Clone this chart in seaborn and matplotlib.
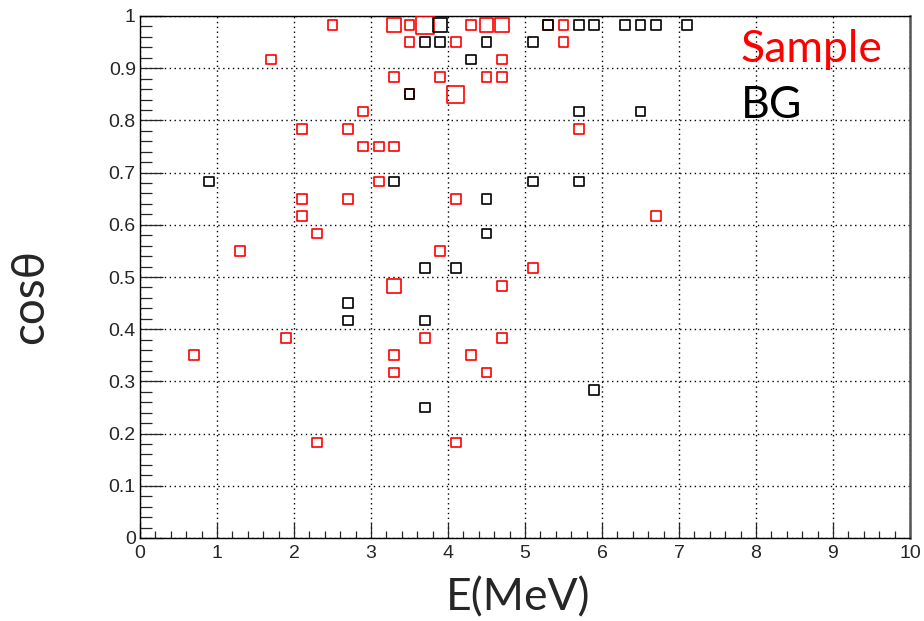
import numpy as np
import pandas as pd
import matplotlib
matplotlib.use("Agg")
import matplotlib.pyplot as plt
import seaborn as sns
from matplotlib.ticker import MultipleLocator

# ---- data (bin centres, counts) ----
sample_E = [2.5, 3.3, 3.5, 3.7, 4.3, 4.5, 4.7, 5.3, 5.5,
            3.5, 4.1, 5.5,
            1.7, 4.7,
            3.3, 3.9, 4.5, 4.7,
            3.5, 4.1,
            2.9,
            2.1, 2.7, 5.7,
            2.9, 3.1, 3.3,
            3.1,
            2.1, 2.7, 4.1,
            2.1, 6.7,
            2.3,
            1.3, 3.9,
            5.1,
            3.3, 4.7,
            1.9, 3.7, 4.7,
            0.7, 3.3, 4.3,
            3.3, 4.5,
            2.3, 4.1]
sample_cos = [0.983] * 9 + [0.95] * 3 + [0.917] * 2 + [0.883] * 4 + [0.85] * 2 + \
             [0.817] + [0.783] * 3 + [0.75] * 3 + [0.683] + [0.65] * 3 + [0.617] * 2 + \
             [0.583] + [0.55] * 2 + [0.517] + [0.483] * 2 + [0.383] * 3 + [0.35] * 3 + \
             [0.317] * 2 + [0.183] * 2
sample_cnt = [1, 2, 1, 3, 1, 2, 2, 1, 1,
              1, 1, 1,
              1, 1,
              1, 1, 1, 1,
              1, 3,
              1,
              1, 1, 1,
              1, 1, 1,
              1,
              1, 1, 1,
              1, 1,
              1,
              1, 1,
              1,
              2, 1,
              1, 1, 1,
              1, 1, 1,
              1, 1,
              1, 1]

bg_E = [3.9, 5.3, 5.7, 5.9, 6.3, 6.5, 6.7, 7.1,
        3.7, 3.9, 4.5, 5.1,
        4.3,
        3.5,
        5.7, 6.5,
        0.9, 3.3, 5.1, 5.7,
        4.5,
        4.5,
        3.7, 4.1,
        2.7,
        2.7, 3.7,
        5.9,
        3.7]
bg_cos = [0.983] * 8 + [0.95] * 4 + [0.917] + [0.85] + [0.817] * 2 + [0.683] * 4 + \
         [0.65] + [0.583] + [0.517] * 2 + [0.45] + [0.417] * 2 + [0.283] + [0.25]
bg_cnt = [2] + [1] * 28

x_ticks = list(range(0, 11))
y_ticks = [0, 0.1, 0.2, 0.3, 0.4, 0.5, 0.6, 0.7, 0.8, 0.9, 1]
y_ticklabels = ["0", "0.1", "0.2", "0.3", "0.4", "0.5", "0.6", "0.7", "0.8", "0.9", "1"]

sample_df = pd.DataFrame({"E": sample_E, "cos": sample_cos, "count": sample_cnt})
bg_df = pd.DataFrame({"E": bg_E, "cos": bg_cos, "count": bg_cnt})

sns.set_style("white")
plt.rcParams["font.family"] = ["Liberation Sans", "DejaVu Sans"]

W, H = 924, 621
fig = plt.figure(figsize=(W / 100, H / 100), dpi=100)
ax = fig.add_axes([140 / W, 1 - 538 / H, 770 / W, 522 / H])

size_map = {1: 48, 2: 100, 3: 160}
for df, col in [(sample_df, "#ff0000"), (bg_df, "#000000")]:
    sns.scatterplot(data=df, x="E", y="cos", size="count", sizes=size_map,
                    marker="s", legend=False, ax=ax, linewidth=1.2, zorder=3)
    coll = ax.collections[-1]
    coll.set_facecolor("none")
    coll.set_edgecolor(col)
    coll.set_linewidth(1.2)

ax.set_xlim(0, 10)
ax.set_ylim(0, 1)
ax.set_xticks(x_ticks)
ax.set_xticklabels([str(v) for v in x_ticks])
ax.set_yticks(y_ticks)
ax.set_yticklabels(y_ticklabels)
ax.xaxis.set_minor_locator(MultipleLocator(0.2))
ax.yaxis.set_minor_locator(MultipleLocator(0.02))
ax.tick_params(axis="x", which="major", direction="in", length=11, width=0.9,
               labelsize=14, pad=5, bottom=True, top=False)
ax.tick_params(axis="x", which="minor", direction="in", length=5, width=0.9,
               bottom=True, top=False)
ax.tick_params(axis="y", which="major", direction="in", length=16.5, width=0.9,
               labelsize=14, pad=3, left=True, right=False)
ax.tick_params(axis="y", which="minor", direction="in", length=8.5, width=0.9,
               left=True, right=False)
ax.grid(True, which="major", color="black", linestyle=(0, (1, 2.5)), linewidth=1.0)
ax.set_axisbelow(True)
for s in ax.spines.values():
    s.set_visible(True)
    s.set_color("black")
    s.set_linewidth(1.0)
ax.spines["right"].set_linewidth(1.8)
ax.spines["right"].set_color("#555555")
ax.set_xlabel("")
ax.set_ylabel("")

lab_font = ["Lato", "Open Sans", "DejaVu Sans"]
fig.text(518 / W, 1 - 598 / H, "E(MeV)", ha="center", va="center",
         fontsize=32, family=lab_font)
fig.text(30 / W, 1 - 297 / H, "cosθ", ha="center", va="center",
         rotation=90, fontsize=33, family=lab_font)
ax.text(7.8, 0.912, "Sample", color="#ff0000", fontsize=32, family=lab_font,
        ha="left", va="baseline")
ax.text(7.8, 0.805, "BG", color="black", fontsize=32, family=lab_font,
        ha="left", va="baseline")

fig.savefig("out.png", dpi=100)
